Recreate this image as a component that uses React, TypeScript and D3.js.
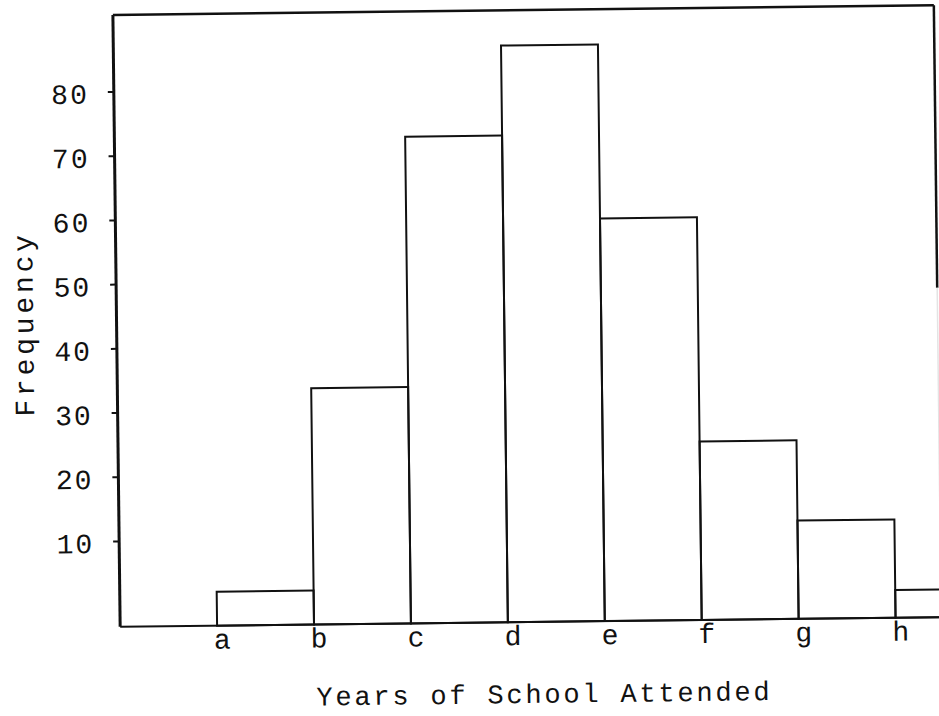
import * as d3 from 'd3';

// Histogram: frequency of years of school attended (scanned typewriter chart)
const categories = ['a', 'b', 'c', 'd', 'e', 'f', 'g', 'h'];
const frequencies = [2, 33.5, 72.5, 86.5, 59.4, 24.5, 12, 1];
const yTicks = [10, 20, 30, 40, 50, 60, 70, 80];

const W = 939;
const H = 716;
const margin = { top: 10, right: 1.5, bottom: 94, left: 116.5 };
const font = '"Liberation Mono", "Courier New", monospace';

export default function App() {
  const innerW = W - margin.left - margin.right;
  const baseY = H - margin.bottom;

  // class edges: a sits one unit right of the axis, frame ends around 8.47
  const x = d3.scaleLinear().domain([0, 8.47]).range([margin.left, margin.left + innerW]);
  const y = d3.scaleLinear().domain([-3.3, 92]).range([baseY, margin.top]);

  const bars = frequencies.map((v, i) => ({ cat: categories[i], v, x0: x(i + 1), x1: x(i + 2) }));
  const rightX = x(8.47);

  return (
    <svg
      width={W}
      height={H}
      style={{ position: 'absolute', left: 0, top: 0, background: '#fff' }}
      fontFamily={font}
    >
      <g transform="rotate(-0.68 527 316)" stroke="#111" fill="none">
        {/* frame */}
        <line x1={margin.left} x2={rightX} y1={y(92)} y2={y(92)} strokeWidth={2.5} />
        <line x1={rightX} x2={rightX} y1={y(92)} y2={y(48)} strokeWidth={2.5} />
        <line x1={rightX} x2={rightX} y1={y(48)} y2={baseY} strokeWidth={1.5} stroke="#e4e4e4" />
        <line x1={margin.left} x2={margin.left} y1={y(92)} y2={baseY} strokeWidth={3} />
        <line x1={margin.left} x2={W + 20} y1={baseY} y2={baseY} strokeWidth={2} />

        {/* bars */}
        {bars.map((b) => (
          <rect
            key={b.cat}
            x={b.x0}
            y={y(b.v)}
            width={b.x1 - b.x0}
            height={baseY - y(b.v)}
            strokeWidth={2}
          />
        ))}

        {/* y ticks */}
        {yTicks.map((t) => (
          <g key={t}>
            <line x1={margin.left - 6} x2={margin.left} y1={y(t)} y2={y(t)} strokeWidth={2} />
            <text
              x={margin.left - 25}
              y={y(t) + 4}
              textAnchor="end"
              dominantBaseline="middle"
              fill="#111"
              stroke="none"
              fontSize={28}
              letterSpacing={2}
            >
              {t}
            </text>
          </g>
        ))}

        {/* x labels */}
        {categories.map((c, i) => (
          <text
            key={c}
            x={x(i + 1) + 5}
            y={baseY + 23}
            textAnchor="middle"
            fill="#111"
            stroke="none"
            fontSize={28}
          >
            {c}
          </text>
        ))}

        <text
          x={540}
          y={703}
          textAnchor="middle"
          fill="#111"
          stroke="none"
          fontSize={27}
          letterSpacing={2.8}
        >
          Years of School Attended
        </text>
        <text
          transform="translate(33,318) rotate(-90)"
          textAnchor="middle"
          fill="#111"
          stroke="none"
          fontSize={28}
          letterSpacing={3.8}
        >
          Frequency
        </text>
      </g>
    </svg>
  );
}
